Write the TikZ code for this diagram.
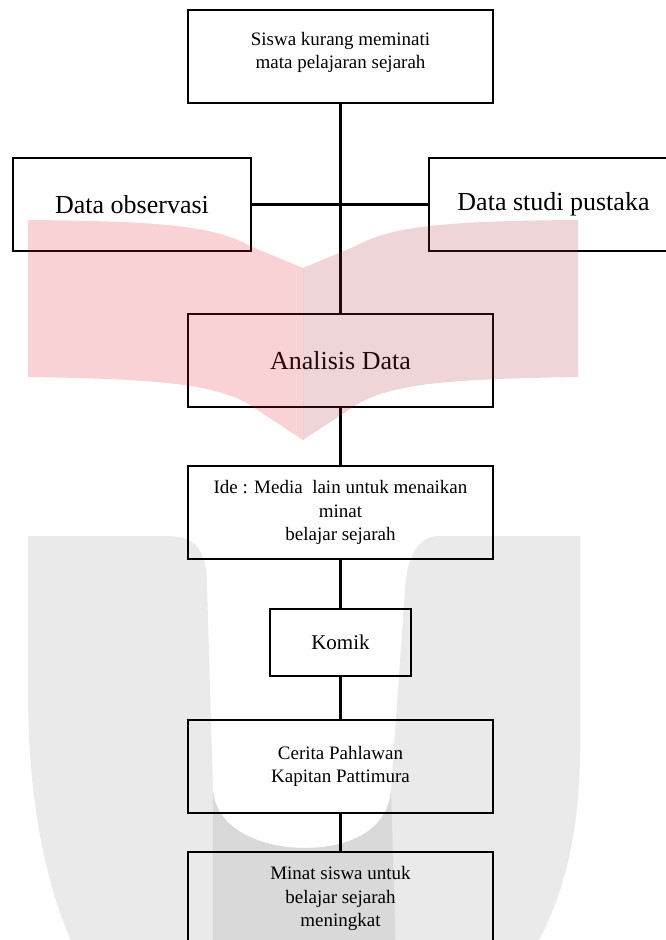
\documentclass[tikz,border=0pt]{standalone}
\usepackage{fontspec}
\setmainfont{Liberation Serif}
\newcommand{\boxfont}{\fontsize{19}{23.5}\selectfont}
\newcommand{\bigboxfont}{\fontsize{26}{31}\selectfont}
\definecolor{bookred}{RGB}{220,30,40}
\definecolor{bookrose}{RGB}{175,45,55}
\definecolor{ugray}{RGB}{234,234,234}
\definecolor{ugraydark}{RGB}{217,217,217}

\begin{document}
\begin{tikzpicture}[x=1pt,y=-1pt,
   box/.style={draw,line width=2.6pt,minimum width=305pt,minimum height=93pt,inner sep=0pt,align=center,font=\boxfont},
   link/.style={line width=3.6pt}]
   \useasboundingbox (0,0) rectangle (665,940);

   %WATERMARK U
   \fill [ugray] (28,536) -- (167,536) .. controls (197,536) and (207,552) .. (207,585)
      -- (213,790) .. controls (216,830) and (262,848) .. (305,848)
      .. controls (350,848) and (388,830) .. (391,790) -- (405,590)
      .. controls (407,555) and (418,536) .. (440,536) -- (580,536) -- (580,750)
      .. controls (580,840) and (560,910) .. (527,960) -- (80,960)
      .. controls (45,890) and (28,800) .. (28,690) -- cycle;
   \fill [ugraydark] (213,790) .. controls (216,830) and (262,848) .. (305,848)
      .. controls (350,848) and (388,830) .. (391,790) -- (396,960) -- (213,960) -- cycle;

   %TOP
   \node (siswa) at (340.5,56.5) [box] {Siswa kurang meminati\\ mata pelajaran sejarah\\[-11pt]\mbox{}};

   %DATA
   \node (observasi) at (132,204.5) [box,minimum width=238pt,font=\bigboxfont] {Data observasi};
   \node (pustaka) at (553.5,204.5) [box,minimum width=249pt,font=\bigboxfont] {Data studi pustaka};
   \node (analisis) at (340.5,360.5) [box,font=\bigboxfont] {Analisis Data};
   \draw [link] (siswa) -- (analisis);
   \draw [link] (observasi) -- (pustaka);

   %IDEA
   \node (ide) at (340.5,512.5) [box] {Ide : Media\ \ lain untuk menaikan\\ minat\\ belajar sejarah};
   \node (komik) at (340.5,642.5) [box,minimum width=141pt,minimum height=67pt,font=\fontsize{21}{25}\selectfont] {Komik};
   \node (cerita) at (340.5,766.5) [box] {Cerita Pahlawan\\ Kapitan Pattimura};
   \node (minat) at (340.5,898.5) [box] {Minat siswa untuk\\ belajar sejarah\\ meningkat};
   \draw [link] (analisis) -- (ide);
   \draw [link] (ide) -- (komik);
   \draw [link] (komik) -- (cerita);
   \draw [link] (cerita) -- (minat);

   %WATERMARK BOOK
   \fill [bookred,opacity=0.2] (28,220) .. controls (160,221) and (215,226) .. (250,246) -- (303,268)
      -- (303,440) -- (250,405) .. controls (215,384) and (160,379) .. (28,377) -- cycle;
   \fill [bookrose,opacity=0.2] (578,220) .. controls (446,221) and (391,226) .. (356,246) -- (303,268)
      -- (303,440) -- (356,405) .. controls (391,384) and (446,379) .. (578,377) -- cycle;
\end{tikzpicture}
\end{document}
